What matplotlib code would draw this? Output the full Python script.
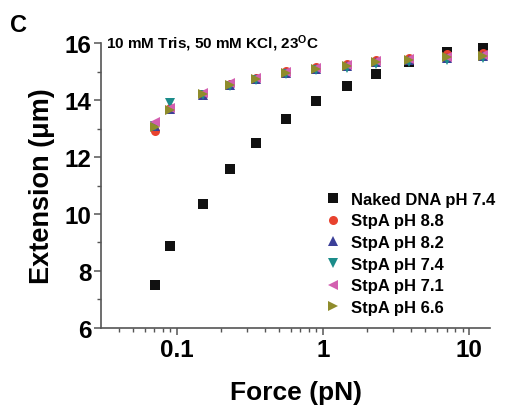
import matplotlib
matplotlib.use("Agg")
import matplotlib.pyplot as plt

plt.rcParams['font.family'] = ['Liberation Sans', 'DejaVu Sans']
plt.rcParams['font.weight'] = 'bold'

# force (pN) and extension (um)
force = [0.071, 0.09, 0.15, 0.23, 0.35, 0.56, 0.89, 1.45, 2.3, 3.9, 7.0, 12.5]
naked_74 = [7.50, 8.89, 10.36, 11.57, 12.49, 13.33, 13.95, 14.48, 14.91, 15.32, 15.67, 15.86]
stpa_88 = [12.92, 13.72, 14.22, 14.56, 14.78, 15.02, 15.17, 15.27, 15.40, 15.48, 15.60, 15.65]
stpa_82 = [13.10, 13.70, 14.18, 14.52, 14.74, 14.96, 15.10, 15.18, 15.32, 15.40, 15.48, 15.55]
stpa_74 = [13.08, 13.88, 14.16, 14.50, 14.72, 14.92, 15.04, 15.14, 15.28, 15.34, 15.42, 15.48]
stpa_71 = [13.24, 13.72, 14.26, 14.58, 14.78, 14.98, 15.12, 15.22, 15.36, 15.44, 15.52, 15.58]
stpa_66 = [13.04, 13.65, 14.20, 14.54, 14.75, 14.96, 15.10, 15.20, 15.34, 15.42, 15.50, 15.56]

series = [
    (naked_74, "Naked DNA pH 7.4", "s", "#111111"),
    (stpa_88, "StpA pH 8.8", "o", "#e8422e"),
    (stpa_82, "StpA pH 8.2", "^", "#3b3f98"),
    (stpa_74, "StpA pH 7.4", "v", "#1b8c8a"),
    (stpa_71, "StpA pH 7.1", "<", "#d35fb0"),
    (stpa_66, "StpA pH 6.6", ">", "#8f8c2c"),
]

fig = plt.figure(figsize=(5.06, 4.10), dpi=100)
ax = fig.add_axes([0.1996, 0.1976, 0.769, 0.695])

for vals, lab, mk, col in series:
    ax.plot(force, vals, linestyle='none', marker=mk, color=col,
            markersize=6.5, markeredgewidth=0, label=lab)

ax.set_xscale('log')
ax.set_xlim(0.0302, 13.9)
ax.set_ylim(6, 16)
ax.set_yticks([6, 8, 10, 12, 14, 16])
ax.set_yticks([7, 9, 11, 13, 15], minor=True)
ax.set_xticks([0.1, 1, 10])
ax.set_xticklabels(["0.1", "1", "10"])

for s in ['top', 'right']:
    ax.spines[s].set_visible(False)
for s in ['left', 'bottom']:
    ax.spines[s].set_color('#555555')
    ax.spines[s].set_linewidth(1.2)
ax.tick_params(which='major', direction='out', length=5, width=1.1,
               color='#555555', labelsize=17.5, pad=2)
ax.tick_params(which='minor', direction='out', length=3, width=1.0,
               color='#555555', labelleft=False, labelbottom=False)
for t in ax.get_xticklabels() + ax.get_yticklabels():
    t.set_fontweight('bold')

ax.set_xlabel("Force (pN)", fontsize=19, fontweight='bold', labelpad=14)
ax.set_ylabel("Extension (μm)", fontsize=19.5, fontweight='bold', labelpad=7)

ax.text(0.012, 1.0, "10 mM Tris, 50 mM KCl, 23$\\mathregular{^O}$C",
        transform=ax.transAxes, fontsize=11, fontweight='bold', va='center', ha='left')
fig.text(0.02, 0.965, "C", fontsize=17, fontweight='bold', va='top', ha='left')

ax.legend(loc='upper left', bbox_to_anchor=(0.575, 0.478), frameon=False,
          prop={'weight': 'bold', 'size': 12}, handlelength=1.0,
          handletextpad=0.55, labelspacing=0.4, borderpad=0, borderaxespad=0)

fig.savefig("out.png", dpi=100)
